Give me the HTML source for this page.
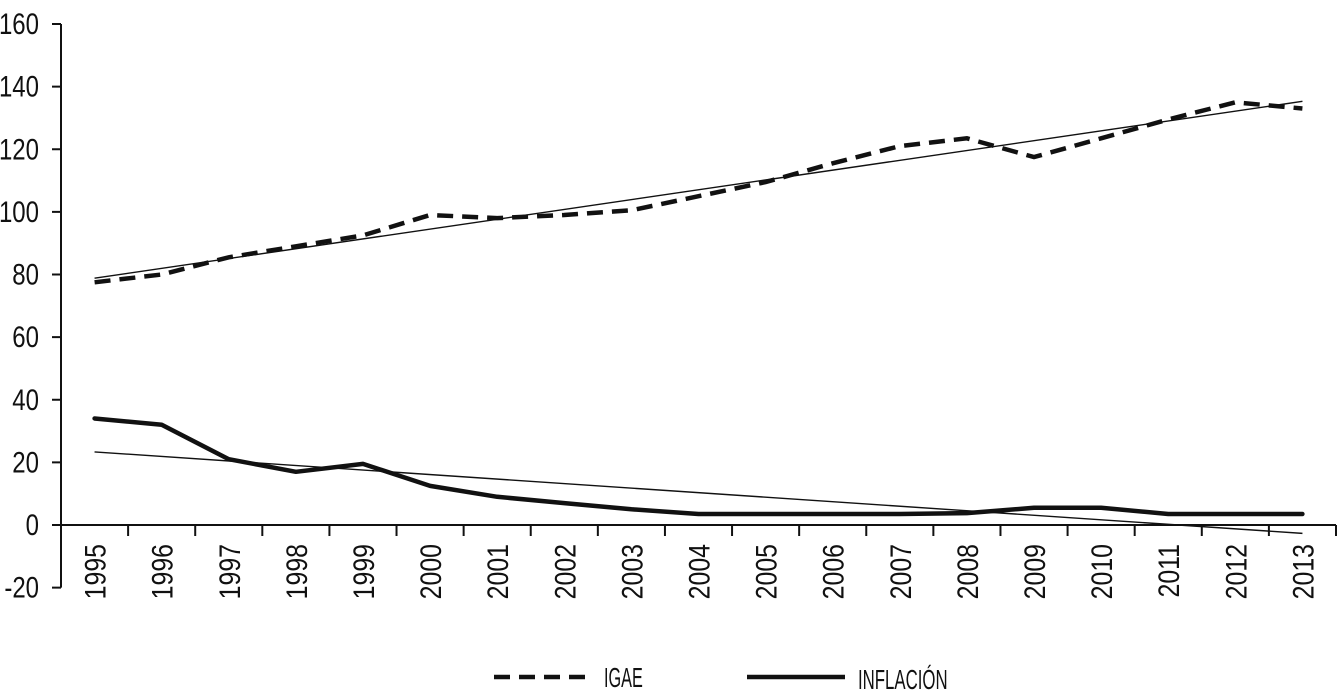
<!DOCTYPE html>
<html><head><meta charset="utf-8"><style>
html,body{margin:0;padding:0;background:#fff;}
svg{display:block;}
text{font-family:"Liberation Sans Narrow","Liberation Sans",sans-serif;fill:#111;}
</style></head><body>
<svg id="chart" width="1337" height="690"></svg>
<script>
const categories=["1995","1996","1997","1998","1999","2000","2001","2002","2003","2004","2005","2006","2007","2008","2009","2010","2011","2012","2013"];
const igae=[77.5,80,85.5,89,92.5,99,98,99,100.5,105,109.5,115.5,121,123.5,117.5,123.5,129.5,135,133];
const inflacion=[34,32,21,17,19.5,12.5,9,7,5,3.5,3.5,3.5,3.5,3.8,5.5,5.5,3.5,3.5,3.5];
const yTicks=[-20,0,20,40,60,80,100,120,140,160];
const NS="http://www.w3.org/2000/svg";
const svg=document.getElementById('chart');
const x0=61,x1=1336,yTop=24,yZero=525;
const band=(x1-x0)/categories.length;
function xs(i){return x0+band*(i+0.5);}
function ys(v){return yZero-(v)*(yZero-yTop)/160;}
function mk(tag,attrs){const e=document.createElementNS(NS,tag);for(const k in attrs)e.setAttribute(k,attrs[k]);svg.appendChild(e);return e;}
let a=mk('line',{x1:x0,y1:ys(160),x2:x0,y2:ys(-20),stroke:'#111','stroke-width':2});


yTicks.forEach(v=>{
 const t=mk('line',{x1:x0-9,y1:ys(v),x2:x0,y2:ys(v),stroke:'#111','stroke-width':2});
 
 
 const l=mk('text',{x:0,y:0,'font-size':30,'text-anchor':'end',transform:`translate(39,${ys(v)+10}) scale(0.8,1)`});
 l.textContent=v;
 
 
});
a=mk('line',{x1:x0,y1:yZero,x2:x1,y2:yZero,stroke:'#111','stroke-width':2});


categories.forEach((c,i)=>{
 const tx=x0+band*(i+1);
 const t=mk('line',{x1:tx,y1:yZero,x2:tx,y2:yZero+11,stroke:'#111','stroke-width':2});
 
 
 const l=mk('text',{x:0,y:0,'font-size':30,'text-anchor':'end',transform:`translate(${xs(i)+11},${yZero+19}) rotate(-90) scale(0.83,1)`});
 l.textContent=c;
 
 
});
function path(vals){return vals.map((v,i)=>(i?'L':'M')+xs(i).toFixed(1)+','+ys(v).toFixed(1)).join(' ');}
function fit(vals){const n=vals.length;let sx=0,sy=0,sxy=0,sxx=0;vals.forEach((v,i)=>{sx+=i;sy+=v;sxy+=i*v;sxx+=i*i;});const b=(n*sxy-sx*sy)/(n*sxx-sx*sx);const a=(sy-b*sx)/n;return [a,a+b*(n-1)];}
[[igae,'igae'],[inflacion,'inflacion']].forEach(([vals,n])=>{
 const f=fit(vals);
 const t=mk('line',{x1:xs(0),y1:ys(f[0]),x2:xs(vals.length-1),y2:ys(f[1]),stroke:'#111','stroke-width':1.4});
 
 
});
let p=mk('path',{d:path(igae),fill:'none',stroke:'#111','stroke-width':4.5,'stroke-dasharray':'16,9'});


p=mk('path',{d:path(inflacion),fill:'none',stroke:'#111','stroke-width':4.5,'stroke-linejoin':'round','stroke-linecap':'round'});


let g=mk('line',{x1:494,y1:677,x2:592,y2:677,stroke:'#111','stroke-width':4.5,'stroke-dasharray':'16,9'});


g=mk('text',{x:0,y:0,'font-size':28,transform:'translate(604,687) scale(0.58,1)'});g.textContent='IGAE';


g=mk('line',{x1:747,y1:677,x2:845,y2:677,stroke:'#111','stroke-width':4.5});


g=mk('text',{x:0,y:0,'font-size':28,transform:'translate(858,689) scale(0.6,1)'});g.textContent='INFLACIÓN';


</script>
</body></html>
